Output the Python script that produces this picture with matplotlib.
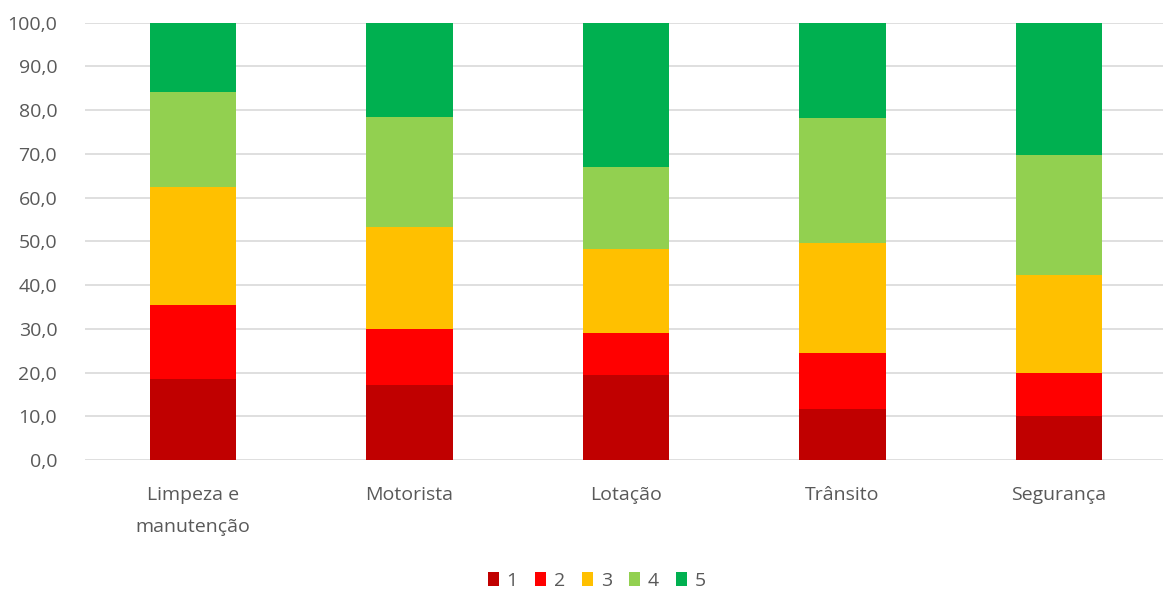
import matplotlib
matplotlib.use("Agg")
import matplotlib.pyplot as plt
import numpy as np

categories = ["Limpeza e\nmanutenção", "Motorista", "Lotação", "Trânsito", "Segurança"]
series_names = ["1", "2", "3", "4", "5"]
s1 = [18.5, 17.1, 19.4, 11.6, 10.1]
s2 = [17.0, 12.8, 9.6, 12.9, 9.7]
s3 = [27.0, 23.3, 19.2, 25.1, 22.5]
s4 = [21.6, 25.3, 18.9, 28.5, 27.5]
s5 = [15.9, 21.5, 32.9, 21.9, 30.2]
colors = ["#C00000", "#FF0000", "#FFC000", "#92D050", "#00B050"]
yticks = [0, 10, 20, 30, 40, 50, 60, 70, 80, 90, 100]

plt.rcParams['font.family'] = ['Open Sans', 'DejaVu Sans']
text_color = "#595959"
fs = 14

fig = plt.figure(figsize=(11.63, 5.94), dpi=100)
ax = fig.add_axes([85/1163, 1 - 460/594, (1167 - 85)/1163, (460 - 22.7)/594])

x = np.arange(len(categories))
bottom = np.zeros(len(categories))
for name, vals, c in zip(series_names, [s1, s2, s3, s4, s5], colors):
    ax.bar(x, vals, bottom=bottom, width=0.4, color=c, label=name, zorder=3)
    bottom += np.array(vals)

ax.set_xlim(-0.5, len(categories) - 0.5)
ax.set_ylim(0, 100)
ax.set_yticks(yticks)
ax.set_yticklabels([f"{v:.1f}".replace(".", ",") for v in yticks])
ax.set_xticks(x)
ax.set_xticklabels(categories, linespacing=2.0)
ax.tick_params(axis='both', length=0, colors=text_color, labelsize=fs)
ax.tick_params(axis='x', pad=19)
ax.tick_params(axis='y', pad=20)
ax.grid(axis='y', color="#D9D9D9", linewidth=1.2, zorder=0)
for sp in ax.spines.values():
    sp.set_visible(False)

leg = fig.legend(loc='center', bbox_to_anchor=(597/1163, 1 - 581/594), ncol=5, frameon=False,
                 handlelength=0.55, handleheight=0.7, handletextpad=0.4, columnspacing=0.9,
                 fontsize=fs)
for t in leg.get_texts():
    t.set_color(text_color)

fig.savefig("out.png", dpi=100)
